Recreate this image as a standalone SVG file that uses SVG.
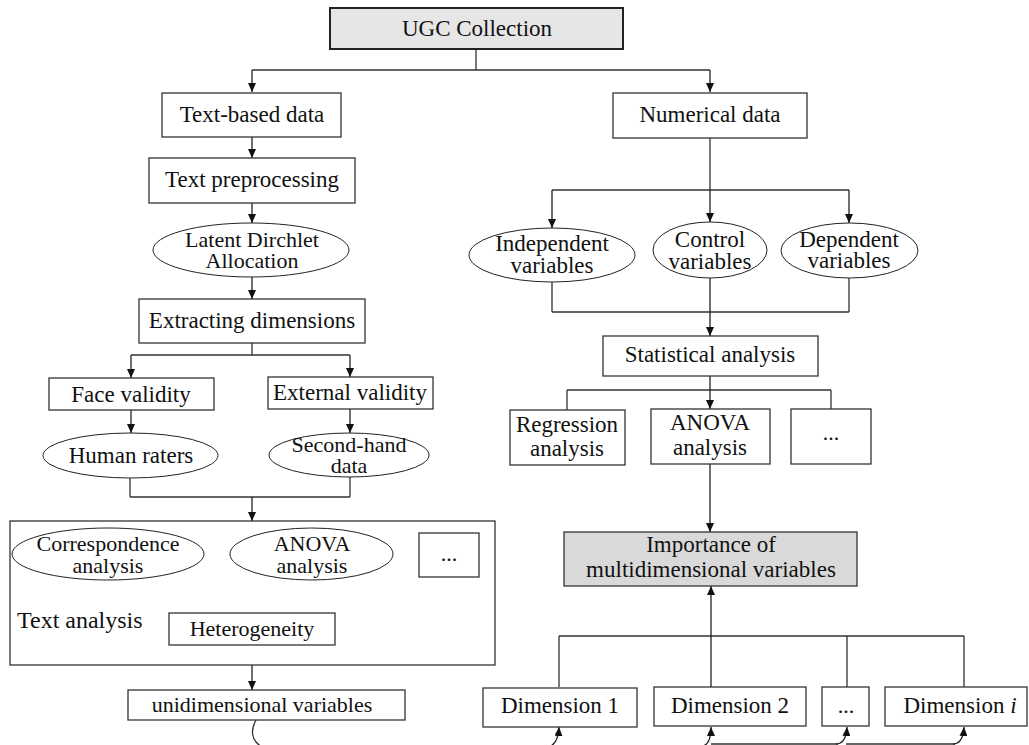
<svg xmlns="http://www.w3.org/2000/svg" width="1029" height="745" viewBox="0 0 1029 745">
<defs>
<marker id="ah" markerUnits="userSpaceOnUse" markerWidth="10" markerHeight="8" refX="9" refY="4" orient="auto">
<path d="M0,0 L9,4 L0,8 z" fill="#111"/>
</marker>
<style>
.box{fill:#fff;stroke:#333;stroke-width:1.3}
.ell{fill:#fff;stroke:#222;stroke-width:1}
.gray{fill:#d9d9d9;stroke:#333;stroke-width:1.3}
.top{fill:#e6e6e6;stroke:#222;stroke-width:2}
.ln{fill:none;stroke:#333;stroke-width:1.3}
.ar{fill:none;stroke:#222;stroke-width:1.3;marker-end:url(#ah)}
text{font-family:"Liberation Serif","DejaVu Serif",serif;font-size:23px;fill:#111;text-anchor:middle}
.sm{font-size:22px}
.lbl{font-size:24px;text-anchor:start}
</style>
</defs>
<rect width="1029" height="745" fill="#fff"/>

<g id="connectors">
<path class="ln" d="M476,49 V70 M252,70 H710"/>
<path class="ar" d="M252,70 V92"/>
<path class="ar" d="M710,70 V92"/>
<path class="ar" d="M252,137 V158"/>
<path class="ar" d="M252,203 V223"/>
<path class="ar" d="M252,277 V299"/>
<path class="ln" d="M252,343 V355 M131,355 H350"/>
<path class="ar" d="M131,355 V378"/>
<path class="ar" d="M350,355 V377"/>
<path class="ar" d="M131,410 V433"/>
<path class="ar" d="M350,409 V433"/>
<path class="ln" d="M130,478 V497 M350,477 V497 M130,497 H350"/>
<path class="ar" d="M252,497 V521"/>
<path class="ln" d="M108,580 V594 M296,580 V594 M448,577 V594 M108,594 H448"/>
<path class="ar" d="M252,594 V613"/>
<path class="ar" d="M252,665 V690"/>
<path class="ln" d="M256,720 C251,729 250,740 262,747"/>
<path class="ln" d="M710,138 V190 M552,190 H849"/>
<path class="ar" d="M552,190 V228"/>
<path class="ar" d="M710,190 V222"/>
<path class="ar" d="M849,190 V223"/>
<path class="ln" d="M552,282 V312 M849,278 V312 M552,312 H849"/>
<path class="ar" d="M710,278 V336"/>
<path class="ln" d="M567,390 H831 M567,390 V410 M831,390 V409"/>
<path class="ar" d="M710,376 V409"/>
<path class="ar" d="M710,464 V532"/>
<path class="ln" d="M559,636 H964 M559,636 V687 M847,636 V687 M964,636 V687"/>
<path class="ar" d="M711,687 V586"/>
<path class="ar" d="M548,747 Q558,745 559,727"/>
<path class="ar" d="M703,746 Q711,744 711,727"/>
<path class="ln" d="M711,744 H838"/>
<path class="ar" d="M836,744 Q846,744 847,727"/>
<path class="ln" d="M846,744 H955"/>
<path class="ar" d="M953,744 Q963,744 964,727"/>
</g>

<g id="ugc"><rect class="top" x="330" y="8" width="293" height="41"/><text x="477" y="36">UGC Collection</text></g>

<g id="text-based"><rect class="box" x="162" y="93" width="179" height="44"/><text x="252" y="122">Text-based data</text></g>
<g id="preprocessing"><rect class="box" x="149" y="158" width="206" height="45"/><text x="252" y="187">Text preprocessing</text></g>
<g id="lda"><ellipse class="ell" cx="251" cy="250" rx="98" ry="27"/><text class="sm" x="252" y="247">Latent Dirchlet<tspan x="252" dy="21">Allocation</tspan></text></g>
<g id="extracting"><rect class="box" x="139" y="299" width="226" height="44"/><text x="252" y="328">Extracting dimensions</text></g>
<g id="face"><rect class="box" x="49" y="378" width="165" height="32"/><text x="131" y="402">Face validity</text></g>
<g id="external"><rect class="box" x="268" y="377" width="165" height="32"/><text x="350" y="400">External validity</text></g>
<g id="human"><ellipse class="ell" cx="130.5" cy="455.5" rx="87.5" ry="22.5"/><text x="131" y="463">Human raters</text></g>
<g id="secondhand"><ellipse class="ell" cx="349" cy="455" rx="80" ry="22"/><text class="sm" x="349" y="452">Second-hand<tspan x="349" dy="21">data</tspan></text></g>

<g id="text-analysis"><rect class="box" x="10" y="521" width="485" height="144" fill="none"/><text class="lbl" x="17" y="628">Text analysis</text></g>
<g id="correspondence"><ellipse class="ell" cx="108" cy="554" rx="96" ry="26"/><text class="sm" x="108" y="551">Correspondence<tspan x="108" dy="22">analysis</tspan></text></g>
<g id="anova-left"><ellipse class="ell" cx="311.5" cy="554" rx="81.5" ry="26"/><text class="sm" x="312" y="551">ANOVA<tspan x="312" dy="22">analysis</tspan></text></g>
<g id="etc-left"><rect class="box" x="419" y="533" width="60" height="44"/><text class="sm" x="449" y="561">...</text></g>
<g id="heterogeneity"><rect class="box" x="169" y="613" width="166" height="32"/><text class="sm" x="252" y="636">Heterogeneity</text></g>
<g id="unidimensional"><rect class="box" x="128" y="690" width="277" height="30"/><text class="sm" x="262" y="712">unidimensional variables</text></g>

<g id="numerical"><rect class="box" x="613" y="93" width="194" height="45"/><text x="710" y="122">Numerical data</text></g>
<g id="independent"><ellipse class="ell" cx="552" cy="255" rx="83" ry="27"/><text x="552" y="251">Independent<tspan x="552" dy="22">variables</tspan></text></g>
<g id="control"><ellipse class="ell" cx="710" cy="250" rx="57" ry="28"/><text x="710" y="247">Control<tspan x="710" dy="22">variables</tspan></text></g>
<g id="dependent"><ellipse class="ell" cx="849.5" cy="250.5" rx="68.5" ry="27.5"/><text x="849" y="247">Dependent<tspan x="849" dy="21">variables</tspan></text></g>
<g id="statistical"><rect class="box" x="603" y="336" width="215" height="40"/><text x="710" y="362">Statistical analysis</text></g>
<g id="regression"><rect class="box" x="510" y="410" width="115" height="55"/><text x="567" y="432">Regression<tspan x="567" dy="24">analysis</tspan></text></g>
<g id="anova-right"><rect class="box" x="651" y="409" width="119" height="55"/><text x="710" y="430">ANOVA<tspan x="710" dy="25">analysis</tspan></text></g>
<g id="etc-right"><rect class="box" x="791" y="409" width="80" height="55"/><text class="sm" x="831" y="440">...</text></g>
<g id="importance"><rect class="gray" x="564" y="532" width="293" height="54"/><text x="711" y="552">Importance of<tspan x="711" dy="25">multidimensional variables</tspan></text></g>
<g id="dim1"><rect class="box" x="483" y="688" width="154" height="39"/><text x="560" y="713">Dimension 1</text></g>
<g id="dim2"><rect class="box" x="654" y="687" width="152" height="39"/><text x="730" y="713">Dimension 2</text></g>
<g id="dim-etc"><rect class="box" x="822" y="687" width="47" height="39"/><text class="sm" x="846" y="713">...</text></g>
<g id="dimi"><rect class="box" x="885" y="687" width="142" height="39"/><text x="960" y="713">Dimension <tspan font-style="italic">i</tspan></text></g>
</svg>
